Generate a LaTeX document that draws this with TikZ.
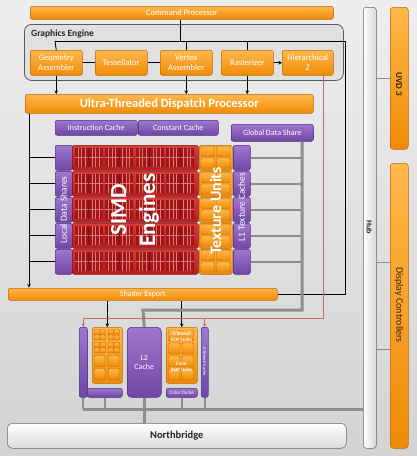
\documentclass[tikz,border=0pt]{standalone}
\usepackage{fontspec}
\setmainfont{Carlito}
\usetikzlibrary{arrows.meta}
\definecolor{orT}{HTML}{FFB84A}
\definecolor{orB}{HTML}{EF8A08}
\definecolor{orD}{HTML}{C26800}
\definecolor{puT}{HTML}{9E78CE}
\definecolor{puB}{HTML}{7045A6}
\definecolor{puD}{HTML}{4F2D7C}
\definecolor{reT}{HTML}{E03A3A}
\definecolor{reB}{HTML}{B81C1C}
\definecolor{reD}{HTML}{7E1212}
\definecolor{gline}{HTML}{8E8E8E}
\definecolor{rline}{HTML}{C86A6A}
\definecolor{bgT}{HTML}{EEEEEE}
\definecolor{bgB}{HTML}{D3D3D3}
\definecolor{txD}{HTML}{3A2408}
\tikzset{
  base/.style={anchor=north west, inner sep=0pt, align=center, line width=0.5pt},
  ob/.style={base, draw=orD, rounded corners=2pt, top color=orT, bottom color=orB, text=white, font=\fontsize{8.5}{9.5}\selectfont},
  pb/.style={base, draw=puD, rounded corners=2pt, top color=puT, bottom color=puB, text=white, font=\fontsize{8}{9}\selectfont},
  rb/.style={base, draw=reD, rounded corners=2pt, top color=reT, bottom color=reB},
  wb/.style={base, draw=black!60, rounded corners=4pt, left color=white, right color=black!16},
  bl/.style={draw=black, line width=0.9pt},
  bla/.style={bl, -{Stealth[length=3.5pt,width=3.5pt]}},
  gl/.style={draw=gline, line width=1.6pt},
  glt/.style={draw=gline, line width=3pt},
  rl/.style={draw=rline, line width=0.8pt},
  rla/.style={rl, -{Stealth[length=3.5pt,width=3.5pt]}},
  hl/.style={draw=black!45, line width=0.6pt},
  tile/.style={draw=orD, line width=0.4pt, rounded corners=1pt, top color=orT, bottom color=orB},
  vtxt/.style={inner sep=0pt, text=white},
}
\begin{document}
\begin{tikzpicture}[x=1pt,y=-1pt]
\useasboundingbox (0,0) rectangle (417,456);
\fill[top color=bgT, bottom color=bgB] (0,0) rectangle (417,456);

% Command processor
\node[ob, minimum width=303pt, minimum height=13pt] (cp) at (30,6) {Command Processor};

% Graphics engine frame
\node[base, draw=black!65, line width=0.8pt, rounded corners=7pt, fill=white!88!black, minimum width=319pt, minimum height=56pt] (ge) at (24,24) {};
\node[anchor=west, inner sep=0pt, font=\bfseries\fontsize{9.5}{10}\selectfont, text=black!85] (gel) at (31,34) {Graphics Engine};

\node[ob, minimum width=52pt, minimum height=25pt] (ga) at (30,50) {Geometry\\Assembler};
\node[ob, minimum width=52pt, minimum height=25pt] (tes) at (95,50) {Tessellator};
\node[ob, minimum width=52pt, minimum height=25pt] (va) at (160,50) {Vertex\\Assembler};
\node[ob, minimum width=52pt, minimum height=25pt] (ras) at (221,50) {Rasterizer};
\node[ob, minimum width=51pt, minimum height=25pt] (hz) at (282,50) {Hierarchical\\Z};

% Dispatch
\node[ob, minimum width=288pt, minimum height=19pt, font=\bfseries\fontsize{12.5}{14}\selectfont] (udp) at (25,94) {Ultra-Threaded Dispatch Processor};

% caches
\node[pb, minimum width=82pt, minimum height=15pt] (ic) at (55,120) {Instruction Cache};
\node[pb, minimum width=80pt, minimum height=15pt] (cc) at (138,120) {Constant Cache};
\node[pb, minimum width=82pt, minimum height=17pt] (gds) at (231,124) {Global Data Share};

% Hub, UVD, Display controllers
\node[wb, minimum width=13pt, minimum height=441pt, rounded corners=3pt] (hub) at (363,7) {};
\node[vtxt, rotate=-90, text=black!85, font=\bfseries\fontsize{8}{9}\selectfont] (hubt) at (369.5,227) {Hub};
\node[ob, minimum width=18pt, minimum height=142pt, rounded corners=3pt] (uvd) at (390,7) {};
\node[vtxt, rotate=-90, text=txD, font=\bfseries\fontsize{9}{10}\selectfont] (uvdt) at (399,84) {UVD 3};
\node[ob, minimum width=18pt, minimum height=285pt, rounded corners=3pt] (dc) at (390,163) {};
\node[vtxt, rotate=-90, text=txD, font=\fontsize{10}{11}\selectfont] (dct) at (399,305) {Display Controllers};

% black control lines
\coordinate (j0) at (180,41);
\coordinate (jL) at (55,41);
\coordinate (jR) at (345,41);
\draw[bl] (cp.south -| j0) -- (j0);
\draw[bl] (jL) -- (jR);
\draw[bl] (jL) -- (ga.north);
\draw[bl] (va.north |- jL) -- (va.north);
\draw[bl] (ras.north |- jL) -- (ras.north);
\draw[bl] (ga.east) -- (tes.west);
\draw[bl] (tes.east) -- (va.west);
\draw[bla] (ras.east) -- (hz.west);
\draw[bla] (ga.south) -- (ga.south |- udp.north);
\draw[bla] (va.south) -- (va.south |- udp.north);
\draw[bla] (ras.south) -- (ras.south |- udp.north);

% SIMD array
\foreach \i in {0,...,4} {
  \pgfmathsetmacro\yy{145+26*\i}
  \node[pb, minimum width=17pt, minimum height=25pt] (lds\i) at (55,\yy) {};
  \node[rb, minimum width=126pt, minimum height=25pt] (simd\i) at (72,\yy) {};
  \node[ob, minimum width=33pt, minimum height=25pt] (tu\i) at (199,\yy) {};
  \node[pb, minimum width=17pt, minimum height=25pt] (l1\i) at (233,\yy) {};
  \foreach \g in {0,...,3} {
    \pgfmathsetmacro\xx{74.5+30.5*\g}
    \fill[reB!85!black] (\xx,\yy+3) rectangle (\xx+28,\yy+22);
    \foreach \k in {1,...,7} {
      \draw[reT!70!white, line width=0.35pt] (\xx+3.5*\k,\yy+3) -- (\xx+3.5*\k,\yy+22);
    }
    \draw[reT!70!white, line width=0.6pt] (\xx,\yy+12.5) -- (\xx+28,\yy+12.5);
    \draw[reD, line width=0.9pt] (\xx+14,\yy+3) -- (\xx+14,\yy+22);
  }
  \foreach \c in {0,1} { \foreach \r in {0,1} {
    \path[tile] (201+15.5*\c,\yy+1.5+11.5*\r) rectangle (214.5+15.5*\c,\yy+11.5+11.5*\r);
  }}
}
\node[vtxt, rotate=90, font=\fontsize{9.5}{10}\selectfont] (ldst) at (63.5,210) {Local Data Shares};
\node[vtxt, rotate=90, font=\fontsize{9.5}{10}\selectfont] (l1t) at (241.5,207) {L1 Texture Caches};
\node[vtxt, rotate=90, align=center, font=\bfseries\fontsize{23}{29}\selectfont] (simdt) at (135,210) {SIMD\\Engines};
\node[vtxt, rotate=90, font=\bfseries\fontsize{16}{18}\selectfont] (tut) at (215.5,211) {Texture Units};

% left black feed line
\draw[bla] (udp.south -| 29,0) -- (29,287.5);
\foreach \i in {0,...,4} { \draw[bl] (lds\i.west -| 29,0) -- (lds\i.west); }

% Shader export
\node[ob, minimum width=269pt, minimum height=12pt, font=\fontsize{8}{9}\selectfont] (se) at (8,288) {Shader Export};
\draw[bl] (jR) -- (jR |- se.east) -- (se.east);

% grey data lines from L1
\foreach \i in {0,...,4} { \draw[gl] (l1\i.east) -- (l1\i.east -| 302,0); }
\coordinate (g1) at (302,310);
\coordinate (g2) at (143,310);

% bottom blocks
\node[pb, minimum width=8pt, minimum height=70pt] (lcol) at (79,327) {};
\node[pb, minimum width=35pt, minimum height=9pt] (lbar) at (87,388) {};
\node[ob, minimum width=30pt, minimum height=56pt] (tex2) at (92,327) {};
\node[pb, minimum width=34pt, minimum height=70pt, rounded corners=4pt] (l2) at (127,327) {L2\\Cache};
\node[ob, minimum width=31pt, minimum height=56pt] (rop) at (166,327) {};
\node[pb, minimum width=31pt, minimum height=9pt, font=\fontsize{5}{5}\selectfont] (ccache) at (166,388) {Color Cache};
\node[pb, minimum width=7pt, minimum height=70pt] (zcache) at (201,327) {};
\node[vtxt, rotate=-90, font=\fontsize{4.5}{5}\selectfont] (zct) at (204.5,362) {Z/Stencil Cache};

% tiles in texture block
\foreach \c in {0,1} {
  \pgfmathsetmacro\xa{94+14*\c}
  \foreach \r in {0,1} {
    \pgfmathsetmacro\ya{329.5+13*\r}
    \foreach \p in {0,1} { \foreach \q in {0,1} {
      \path[tile] (\xa+6*\p,\ya+5.5*\q) rectangle (\xa+5.5+6*\p,\ya+5+5.5*\q);
    }}
  }
  \foreach \r in {2,3} {
    \pgfmathsetmacro\ya{329.5+13*\r}
    \path[tile] (\xa+0.5,\ya) rectangle (\xa+11,\ya+11);
  }
}
% tiles in ROP block
\foreach \c in {0,1} { \foreach \r in {0,...,3} {
  \path[tile] (168.5+13.5*\c,330+13*\r) rectangle (180+13.5*\c,341+13*\r);
}}
\node[vtxt, font=\bfseries\fontsize{5}{5.5}\selectfont, align=center] (ropz) at (181.5,337) {Z/Stencil\\ROP Units};
\node[vtxt, font=\bfseries\fontsize{5}{5.5}\selectfont, align=center] (ropc) at (181.5,367) {Color\\ROP Units};

% arrows from shader export
\draw[bla] (se.south -| tex2.north) -- (tex2.north);
\draw[bla] (se.south -| rop.north) -- (rop.north);

% global data share grey path
\draw[glt] (gds.south -| g1) -- (g1) -- (g2) -- (l2.north);

% red line from hierarchical Z
\coordinate (r0) at (323,318);
\draw[rl] (hz.south -| r0) -- (r0) -- (r0 -| lcol.north);
\draw[rla] (r0 -| lcol.north) -- (lcol.north);
\draw[rla] (r0 -| zcache.north) -- (zcache.north);

% Northbridge
\node[wb, minimum width=339pt, minimum height=25pt, rounded corners=5pt, top color=white, bottom color=black!14, font=\bfseries\fontsize{10.5}{12}\selectfont, text=black!85] (nb) at (7,423) {Northbridge};

% bottom grey memory lines
\coordinate (m0) at (83,409);
\draw[glt] (m0) -- (m0 -| hub.west);
\draw[gl] (lcol.south) -- (lcol.south |- m0);
\draw[gl] (lbar.south) -- (lbar.south |- m0);
\draw[gl] (ccache.south) -- (ccache.south |- m0);
\draw[gl] (zcache.south) -- (zcache.south |- m0);
\draw[glt] (l2.south) -- (nb.north -| l2.south);

% hub links
\draw[hl] (hub.east |- uvd.west) -- (uvd.west);
\draw[hl] (hub.east |- 0,262) -- (dc.west |- 0,262);
\draw[hl] (hub.east |- 0,349) -- (dc.west |- 0,349);
\end{tikzpicture}
\end{document}
